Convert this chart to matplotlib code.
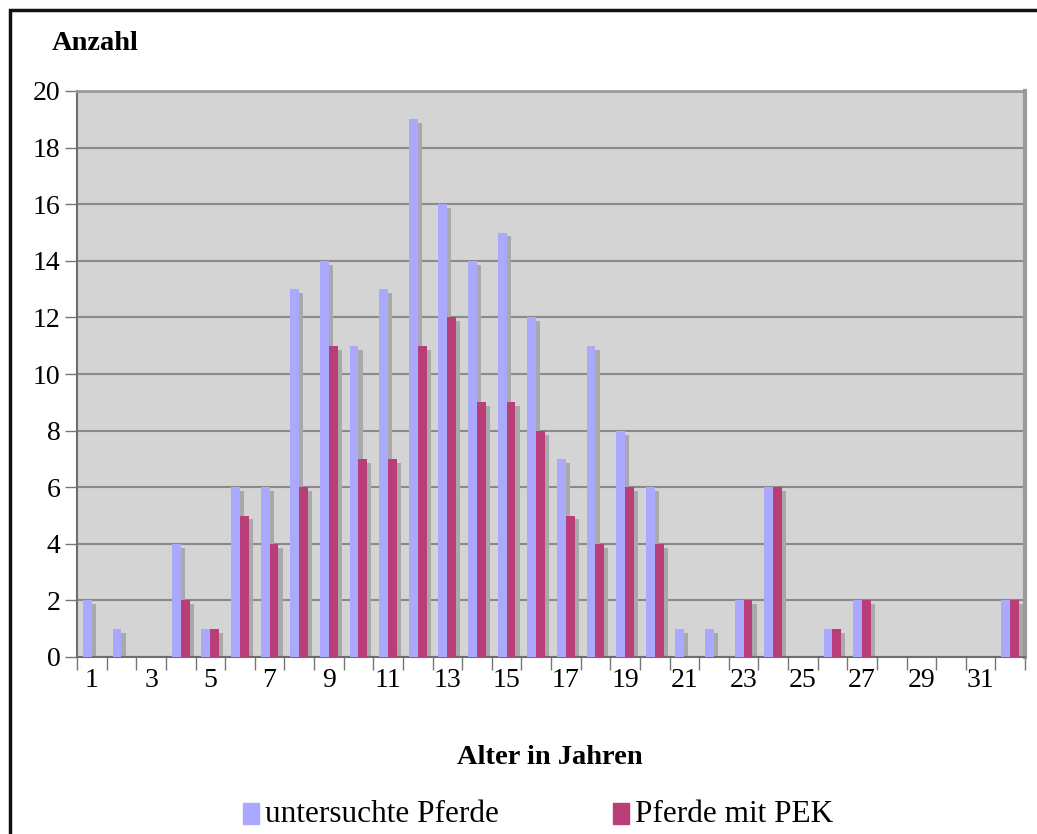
import numpy as np
import matplotlib.pyplot as plt
from matplotlib.patches import Rectangle

plt.rcParams['font.family'] = ['Liberation Serif', 'DejaVu Serif']

# data
alter = np.arange(1, 33)
untersucht = [2, 1, 0, 4, 1, 6, 6, 13, 14, 11, 13, 19, 16, 14, 15, 12,
              7, 11, 8, 6, 1, 1, 2, 6, 0, 1, 2, 0, 0, 0, 0, 2]
pek = [0, 0, 0, 2, 1, 5, 4, 6, 11, 7, 7, 11, 12, 9, 9, 8,
       5, 4, 6, 4, 0, 0, 2, 6, 0, 1, 2, 0, 0, 0, 0, 2]
xlabels = [str(a) if a % 2 == 1 else '' for a in alter]

W, H = 1037, 834
fig = plt.figure(figsize=(W / 100, H / 100), dpi=100)
ax = fig.add_axes([77 / W, 1 - 657 / H, (1025 - 77) / W, (657 - 91) / H])
ax.set_facecolor('#d4d4d4')

x = np.arange(len(alter))
bw = 0.3
dx, dy = 0.14, 0.14  # shadow offset

# shadows
for vals, off in [(untersucht, -bw / 2), (pek, bw / 2)]:
    v = np.array(vals, dtype=float)
    h = np.where(v > 0, v - dy, 0)
    ax.bar(x + off + dx, h, bw, color='#a9a9a9', zorder=2, align='center')

ax.bar(x - bw / 2, untersucht, bw, color='#aaa8ff', zorder=3, label='untersuchte Pferde')
ax.bar(x + bw / 2, pek, bw, color='#b93d76', zorder=3, label='Pferde mit PEK')

ax.set_xlim(-0.5, len(alter) - 0.5)
ax.set_ylim(0, 20)
ax.set_yticks(range(0, 21, 2))
ax.yaxis.grid(True, color='#8a8a8a', linewidth=1.5, zorder=1)
ax.set_axisbelow(True)

# x tick marks at category boundaries, labels at centres
ax.set_xticks(np.arange(-0.5, len(alter), 1))
ax.set_xticklabels([])
ax.set_xticks(x, minor=True)
ax.set_xticklabels(xlabels, minor=True)
ax.tick_params(axis='x', which='major', length=9, width=1, color='#777777', direction='out')
ax.tick_params(axis='x', which='minor', length=0, pad=8, labelsize=20)
ax.tick_params(axis='y', length=9, width=1, color='#777777', labelsize=20, pad=3)

for s in ['left', 'bottom']:
    ax.spines[s].set_color('#6e6e6e')
    ax.spines[s].set_linewidth(1.5)
ax.spines['top'].set_color('#9a9a9a')
ax.spines['top'].set_linewidth(2)
ax.spines['right'].set_color('#9a9a9a')
ax.spines['right'].set_linewidth(3)

fig.text(52 / W, 1 - 44 / H, 'Anzahl', fontsize=20.5, fontweight='bold', va='center', ha='left')
fig.text(550 / W, 1 - 757 / H, 'Alter in Jahren', fontsize=20.5, fontweight='bold', va='center', ha='center')

# legend
fig.patches.append(Rectangle((243 / W, 1 - 824 / H), 16 / W, 21 / H, transform=fig.transFigure,
                             color='#aaa8ff'))
fig.text(265 / W, 1 - 814 / H, 'untersuchte Pferde', fontsize=22.5, va='center', ha='left')
fig.patches.append(Rectangle((613 / W, 1 - 824 / H), 16 / W, 21 / H, transform=fig.transFigure,
                             color='#b93d76'))
fig.text(635 / W, 1 - 814 / H, 'Pferde mit PEK', fontsize=22.5, va='center', ha='left')

# outer frame (cut off right and bottom)
fig.patches.append(Rectangle((10 / W, -0.05), 1.2, 1 - 10 / H + 0.05, transform=fig.transFigure,
                             fill=False, edgecolor='#111111', linewidth=2.5))

fig.savefig('out.png', dpi=100)
